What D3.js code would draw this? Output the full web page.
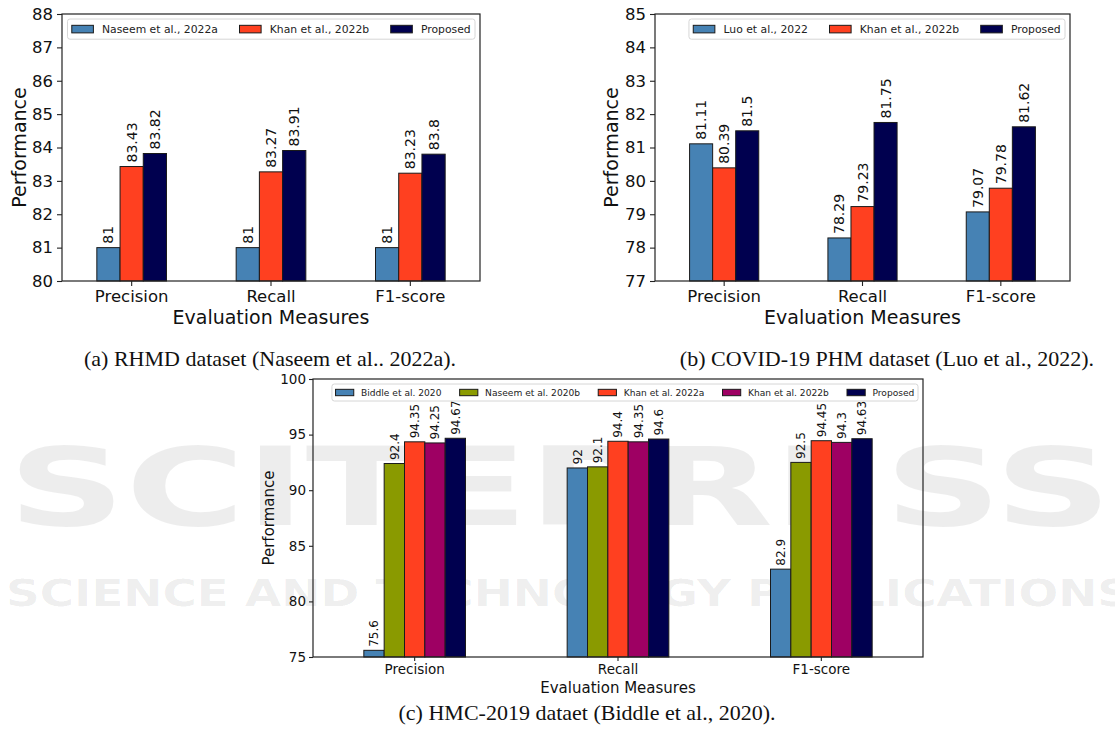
<!DOCTYPE html>
<html><head><meta charset="utf-8">
<script src="https://cdn.jsdelivr.net/npm/d3@7"></script>
<style>body{margin:0;background:#fff}svg{display:block}</style>
</head><body>
<svg id="c" width="1115" height="740"></svg>
<script>
// ---------------- data ----------------
const categories = ["Precision", "Recall", "F1-score"];

const seriesA = ["Naseem et al., 2022a", "Khan et al., 2022b", "Proposed"];
const naseemA = [81, 81, 81];
const khanA = [83.43, 83.27, 83.23];
const proposedA = [83.82, 83.91, 83.8];
const ticksA = [80, 81, 82, 83, 84, 85, 86, 87, 88];

const seriesB = ["Luo et al., 2022", "Khan et al., 2022b", "Proposed"];
const luoB = [81.11, 78.29, 79.07];
const khanB = [80.39, 79.23, 79.78];
const proposedB = [81.5, 81.75, 81.62];
const ticksB = [77, 78, 79, 80, 81, 82, 83, 84, 85];

const seriesC = ["Biddle et al. 2020", "Naseem et al. 2020b", "Khan et al. 2022a", "Khan et al. 2022b", "Proposed"];
const biddleC = [75.6, 92, 82.9];
const naseemC = [92.4, 92.1, 92.5];
const khanAC = [94.35, 94.4, 94.45];
const khanBC = [94.25, 94.35, 94.3];
const proposedC = [94.67, 94.6, 94.63];
const ticksC = [75, 80, 85, 90, 95, 100];

const xLabel = "Evaluation Measures";
const yLabel = "Performance";
const captionA = "(a) RHMD dataset (Naseem et al.. 2022a).";
const captionB = "(b) COVID-19 PHM dataset (Luo et al., 2022).";
const captionC = "(c) HMC-2019 dataet (Biddle et al., 2020).";

const BLUE = "#4682B4", RED = "#FF4020", NAVY = "#00004f", OLIVE = "#8a9a00", PURPLE = "#9e0063";

// ---------------- drawing ----------------
const svg = d3.select("#c");
const FONT = "DejaVu Sans, sans-serif";

// faint publisher watermark (drawn first, behind the charts)
const wm = svg.append("g").attr("pointer-events", "none").attr("fill", "#000").attr("fill-opacity", 0.07);
wm.append("text").attr("x", 8).attr("y", 525).attr("font-family", FONT).attr("font-weight", "bold")
  .attr("font-size", 108).attr("textLength", 1104).attr("lengthAdjust", "spacingAndGlyphs").text("SCITEPRESS");
wm.append("text").attr("x", 6).attr("y", 606).attr("font-family", FONT).attr("font-weight", "bold")
  .attr("font-size", 38).attr("textLength", 1125).attr("lengthAdjust", "spacingAndGlyphs").text("SCIENCE AND TECHNOLOGY PUBLICATIONS");

function panel(opt) {
  const g = svg.append("g");
  const {L, T, R, B, domain, ticks, series, values, colors, fs} = opt;
  const x = d3.scaleBand().domain(categories).range([L, R]).paddingInner(0.5).paddingOuter(0.25);
  const xs = d3.scaleBand().domain(series).range([0, x.bandwidth()]);
  const y = d3.scaleLinear().domain(domain).range([B, T]);

  const data = [];
  series.forEach((s, i) => categories.forEach((c, j) => data.push({s, c, v: values[i][j], col: colors[i]})));

  g.selectAll("rect.bar").data(data).join("rect").attr("class", "bar")
    .attr("x", d => x(d.c) + xs(d.s)).attr("width", xs.bandwidth())
    .attr("y", d => y(d.v)).attr("height", d => B - y(d.v))
    .attr("fill", d => d.col).attr("stroke", "#1a1a1a").attr("stroke-width", 1);

  g.selectAll("text.val").data(data).join("text").attr("class", "val")
    .attr("transform", d => `translate(${x(d.c) + xs(d.s) + xs.bandwidth() / 2},${y(d.v) - opt.vpad}) rotate(-90)`)
    .attr("dy", "0.36em").attr("text-anchor", "start")
    .attr("font-family", FONT).attr("font-size", fs.val).attr("fill", "#111")
    .text(d => String(d.v));

  // axes
  const ax = g.append("g").attr("transform", `translate(0,${B})`)
    .call(d3.axisBottom(x).tickSize(opt.tick).tickSizeOuter(0).tickPadding(opt.tpad));
  const ay = g.append("g").attr("transform", `translate(${L},0)`)
    .call(d3.axisLeft(y).tickValues(ticks).tickFormat(d3.format("d")).tickSize(opt.tick).tickSizeOuter(0).tickPadding(opt.tpad));
  [ax, ay].forEach(a => {
    a.select(".domain").remove();
    a.selectAll("line").attr("stroke", "#222").attr("stroke-width", 1.1);
    a.selectAll("text").attr("font-family", FONT).attr("font-size", fs.tick).attr("fill", "#111");
  });
  g.append("rect").attr("x", L).attr("y", T).attr("width", R - L).attr("height", B - T)
    .attr("fill", "none").attr("stroke", "#222").attr("stroke-width", 1.2);

  // axis labels
  g.append("text").attr("x", (L + R) / 2).attr("y", opt.xlY).attr("text-anchor", "middle")
    .attr("font-family", FONT).attr("font-size", fs.lab).attr("fill", "#111").text(xLabel);
  g.append("text").attr("transform", `translate(${opt.ylX},${(T + B) / 2}) rotate(-90)`)
    .attr("text-anchor", "middle").attr("dy", "0.36em")
    .attr("font-family", FONT).attr("font-size", fs.lab).attr("fill", "#111").text(yLabel);

  // legend (upper right, one row)
  const lf = fs.leg;
  const pad = 0.4 * lf, hl = 2 * lf, hp = 0.8 * lf, cs = 2 * lf;
  const lg = g.append("g");
  const tw = series.map(s => {
    const t = lg.append("text").attr("font-family", FONT).attr("font-size", lf).text(s);
    const w = t.node().getComputedTextLength(); t.remove(); return w;
  });
  const total = 2 * pad + d3.sum(tw) + series.length * (hl + hp) + (series.length - 1) * cs;
  const bx = R - opt.lgap - total, by = T + opt.lgap, bh = 1.87 * lf;
  lg.append("rect").attr("x", bx).attr("y", by).attr("width", total).attr("height", bh)
    .attr("rx", 2.5).attr("fill", "#fff").attr("fill-opacity", 0.85).attr("stroke", "#d6d6d6");
  let cx = bx + pad;
  series.forEach((s, i) => {
    lg.append("rect").attr("x", cx).attr("y", by + bh / 2 - 0.35 * lf).attr("width", hl).attr("height", 0.7 * lf)
      .attr("fill", colors[i]).attr("stroke", "#1a1a1a").attr("stroke-width", 1);
    lg.append("text").attr("x", cx + hl + hp).attr("y", by + bh / 2).attr("dy", "0.36em")
      .attr("font-family", FONT).attr("font-size", lf).attr("fill", "#222").text(s);
    cx += hl + hp + tw[i] + cs;
  });
}

panel({L: 62, T: 14, R: 480, B: 281, domain: [80, 88], ticks: ticksA, series: seriesA,
  values: [naseemA, khanA, proposedA], colors: [BLUE, RED, NAVY],
  fs: {val: 14, tick: 16.5, lab: 19, leg: 10.8}, vpad: 4, tick: 5, tpad: 4, xlY: 324, ylX: 19, lgap: 5});

panel({L: 655, T: 14, R: 1070, B: 281, domain: [77, 85], ticks: ticksB, series: seriesB,
  values: [luoB, khanB, proposedB], colors: [BLUE, RED, NAVY],
  fs: {val: 14, tick: 16.5, lab: 19, leg: 10.8}, vpad: 4, tick: 5, tpad: 4, xlY: 324, ylX: 611, lgap: 5});

panel({L: 313, T: 379, R: 923, B: 657, domain: [75, 100], ticks: ticksC, series: seriesC,
  values: [biddleC, naseemC, khanAC, khanBC, proposedC], colors: [BLUE, OLIVE, RED, PURPLE, NAVY],
  fs: {val: 12, tick: 13.5, lab: 15, leg: 9.1}, vpad: 3.5, tick: 4, tpad: 3, xlY: 693, ylX: 269, lgap: 5});

// captions
const SERIF = "Liberation Serif, Times New Roman, serif";
[[captionA, 270, 366], [captionB, 887, 366], [captionC, 587, 720]].forEach(([t, cx, cy]) => {
  svg.append("text").attr("x", cx).attr("y", cy).attr("text-anchor", "middle")
    .attr("font-family", SERIF).attr("font-size", 22).attr("fill", "#111").text(t);
});
</script>
</body></html>
